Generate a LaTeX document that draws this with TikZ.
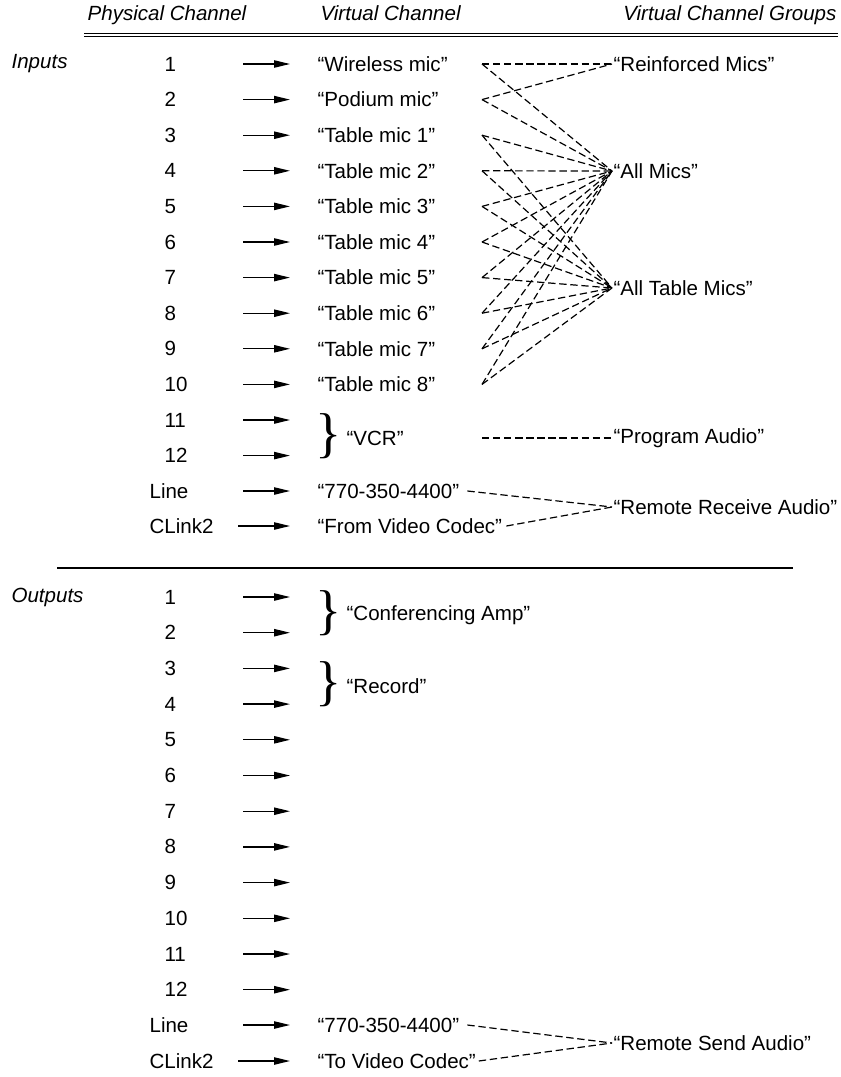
\documentclass[tikz,border=0pt]{standalone}
\usepackage{fontspec}
\setmainfont{Liberation Sans}
\newfontfamily\bracefam{Liberation Serif}
\usetikzlibrary{arrows.meta}

\newcommand{\bodyfont}{\fontsize{15.4}{18}\selectfont}
\newcommand{\bracefont}{\bracefam\fontsize{41}{41}\selectfont}

\begin{document}
\begin{tikzpicture}[
  x=0.75pt, y=-0.75pt,
  txt/.style={anchor=west, inner sep=1pt, font=\bodyfont},
  hdr/.style={inner sep=1pt, font=\bodyfont\itshape},
  brc/.style={inner sep=0pt, font=\bracefont},
  arr/.style={-{Triangle[length=12pt,width=5.5pt]}, line width=1pt},
  grp/.style={dash pattern=on 5.5pt off 2.8pt, line width=0.9pt},
]
\useasboundingbox (0,0) rectangle (841,1077);

% column heads
\node[hdr, anchor=base] (hphys) at (167,21) {Physical Channel};
\node[hdr, anchor=base west] (hvirt) at (319,21) {Virtual Channel};
\node[hdr, anchor=base east] (hgroup) at (838,21) {Virtual Channel Groups};
\coordinate (rulel) at (84,35);
\coordinate (ruler) at (838,35);
\draw[double, line width=0.8pt, double distance=1pt] (rulel) -- (ruler);

% inputs
\node[hdr, anchor=west] (inputs) at (10,64) {Inputs};
\foreach \n/\vname in {1/Wireless mic, 2/Podium mic, 3/Table mic 1, 4/Table mic 2,
    5/Table mic 3, 6/Table mic 4, 7/Table mic 5, 8/Table mic 6, 9/Table mic 7,
    10/Table mic 8, 11/, 12/} {
  \pgfmathsetmacro{\y}{64+35.6*(\n-1)}
  \node[txt] (pin\n) at (163,\y) {\n};
  \coordinate (ia\n) at (243,\y);
  \coordinate (ib\n) at (290,\y);
  \draw[arr] (ia\n) -- (ib\n);
  \ifnum\n<11
    \node[txt] (vin\n) at (316,\y) {“\vname”};
    \coordinate (tip\n) at (482,\y);
  \fi
}
\node[txt] (pin13) at (148,491) {Line};
\node[txt] (pin14) at (148,526) {CLink2};
\coordinate (ia13) at (243,491);
\coordinate (ib13) at (290,491);
\coordinate (ia14) at (238,526);
\coordinate (ib14) at (290,526);
\draw[arr] (ia13) -- (ib13);
\draw[arr] (ia14) -- (ib14);
\node[txt] (vin13) at (316,491) {“770-350-4400”};
\node[txt] (vin14) at (316,526) {“From Video Codec”};

\node[brc] (vcrbrace) at (329,436) {\}};
\node[txt] (vcr) at (345,438) {“VCR”};
\coordinate (vcrtip) at (482,438);

% input groups
\node[txt] (reinf) at (612,64) {“Reinforced Mics”};
\node[txt] (allmics) at (612,171) {“All Mics”};
\node[txt] (alltable) at (612,288) {“All Table Mics”};
\node[txt] (progaudio) at (612,438) {“Program Audio”};
\node[txt] (remrecv) at (612,507) {“Remote Receive Audio”};

\foreach \n in {1,2} \draw[grp] (tip\n) -- (reinf.west);
\foreach \n in {1,...,10} \draw[grp] (tip\n) -- (allmics.west);
\foreach \n in {3,...,10} \draw[grp] (tip\n) -- (alltable.west);
\draw[grp] (vcrtip) -- (progaudio.west);
\draw[grp] ([xshift=5pt]vin13.east) -- (remrecv.west);
\draw[grp] ([xshift=2pt]vin14.east) -- (remrecv.west);

\coordinate (divl) at (57,568);
\coordinate (divr) at (793,568);
\draw[line width=0.9pt] (divl) -- (divr);

% outputs
\node[hdr, anchor=west] (outputs) at (10,597) {Outputs};
\foreach \n in {1,...,12} {
  \pgfmathsetmacro{\y}{597+35.7*(\n-1)}
  \node[txt] (pout\n) at (163,\y) {\n};
  \coordinate (oa\n) at (243,\y);
  \coordinate (ob\n) at (290,\y);
  \draw[arr] (oa\n) -- (ob\n);
}
\node[txt] (pout13) at (148,1025) {Line};
\node[txt] (pout14) at (148,1061) {CLink2};
\coordinate (oa13) at (243,1025);
\coordinate (ob13) at (290,1025);
\coordinate (oa14) at (238,1061);
\coordinate (ob14) at (290,1061);
\draw[arr] (oa13) -- (ob13);
\draw[arr] (oa14) -- (ob14);
\node[txt] (vout13) at (316,1025) {“770-350-4400”};
\node[txt] (vout14) at (316,1061) {“To Video Codec”};

\node[brc] (confbrace) at (329,613) {\}};
\node[txt] (confamp) at (345,615) {“Conferencing Amp”};
\node[brc] (recbrace) at (329,684) {\}};
\node[txt] (record) at (345,686) {“Record”};

\node[txt] (remsend) at (612,1043) {“Remote Send Audio”};
\draw[grp] ([xshift=5pt]vout13.east) -- (remsend.west);
\draw[grp] ([xshift=1pt]vout14.east) -- (remsend.west);
\end{tikzpicture}
\end{document}
